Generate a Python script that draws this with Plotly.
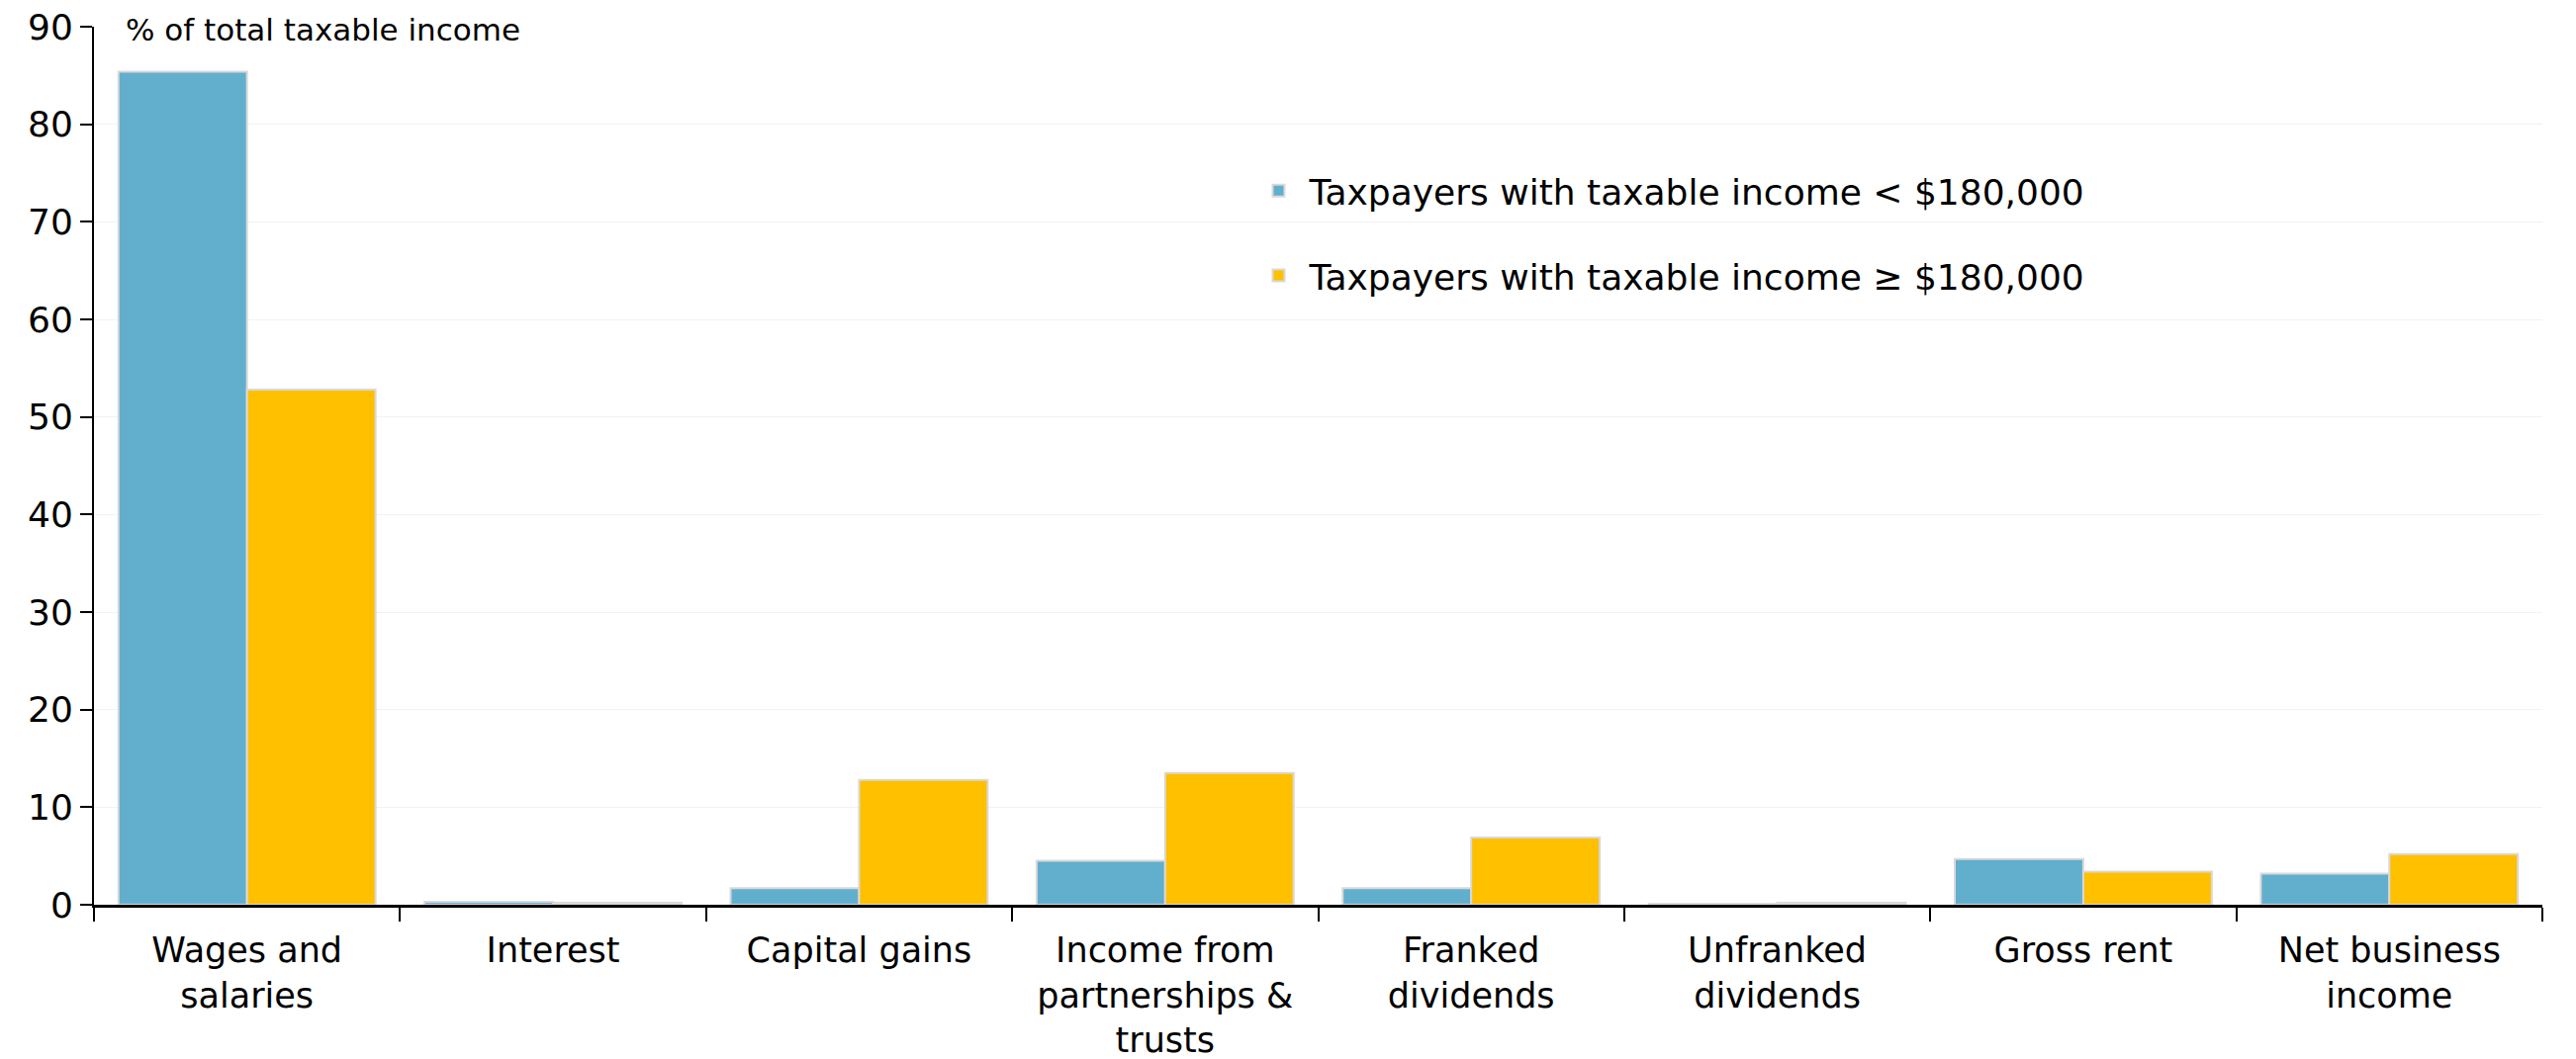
import plotly.graph_objects as go

# Income categories and shares of total taxable income (%)
categories = [
    "Wages and<br>salaries",
    "Interest",
    "Capital gains",
    "Income from<br>partnerships &<br>trusts",
    "Franked<br>dividends",
    "Unfranked<br>dividends",
    "Gross rent",
    "Net business<br>income",
]
below_180k = [85.4, 0.3, 1.7, 4.5, 1.7, 0.1, 4.7, 3.2]
above_180k = [52.8, 0.2, 12.8, 13.5, 6.9, 0.2, 3.4, 5.2]

series_names = [
    "Taxpayers with taxable income < $180,000",
    "Taxpayers with taxable income \u2265 $180,000",
]
series_colors = ["#62AFCD", "#FFC000"]

y_ticks = [0, 10, 20, 30, 40, 50, 60, 70, 80, 90]
y_title = "% of total taxable income"

FONT = "DejaVu Sans"
FS = 36

fig = go.Figure()
for i, (name, vals, col) in enumerate(zip(series_names, [below_180k, above_180k], series_colors)):
    fig.add_trace(go.Bar(
        x=categories, y=vals, name=name,
        marker=dict(color=col, line=dict(color="#D9D9D9", width=2)),
        legendgroup=f"g{i}",
    ))

fig.update_layout(
    width=2604, height=1071,
    margin=dict(l=95, r=34, t=27, b=156, autoexpand=False),
    paper_bgcolor="white", plot_bgcolor="white",
    font=dict(family=FONT, size=FS, color="black"),
    barmode="group", bargap=0.16, bargroupgap=0,
    showlegend=True,
    legend=dict(
        x=0.4713, y=0.847, xanchor="left", yanchor="top",
        bgcolor="rgba(0,0,0,0)", font=dict(family=FONT, size=FS),
        tracegroupgap=36, itemwidth=52,
    ),
    xaxis=dict(
        type="category", range=[-0.5, 7.5], automargin=False,
        showline=True, linecolor="black", linewidth=3,
        ticks="outside", tickson="boundaries", ticklen=14, tickwidth=2, tickcolor="black",
        showgrid=False, tickfont=dict(family=FONT, size=35),
        tickangle=0, ticklabelstandoff=13,
    ),
    yaxis=dict(
        range=[0, 90], tickvals=y_ticks, automargin=False,
        showline=True, linecolor="black", linewidth=2,
        ticks="outside", ticklen=12, tickwidth=2, tickcolor="black",
        showgrid=True, gridcolor="#F2F2F2", gridwidth=1,
        zeroline=False, tickfont=dict(family=FONT, size=FS),
    ),
    annotations=[dict(
        text=y_title, xref="paper", yref="paper", x=0.012, y=0.997,
        xanchor="left", yanchor="middle", showarrow=False,
        font=dict(family=FONT, size=31),
    )],
)

fig.write_html("out.html")
